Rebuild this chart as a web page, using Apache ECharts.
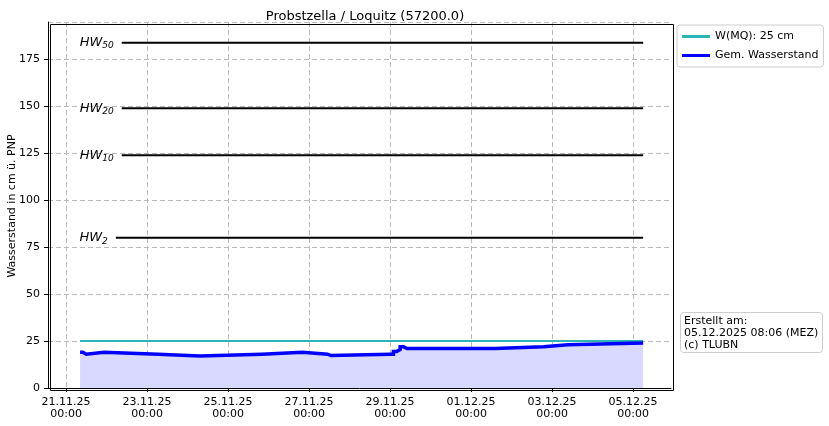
<!DOCTYPE html><html><head><meta charset="utf-8">
<script src="https://cdn.jsdelivr.net/npm/echarts@6/dist/echarts.min.js"></script>
<style>html,body{margin:0;padding:0;background:#fff}#c{width:829px;height:426px}</style></head>
<body><div id="c"></div><script>
// hours since 21.11.25 00:00
const tickHours=[0,48,96,144,192,240,288,336];
const tickLabels=['21.11.25\n00:00','23.11.25\n00:00','25.11.25\n00:00','27.11.25\n00:00','29.11.25\n00:00','01.12.25\n00:00','03.12.25\n00:00','05.12.25\n00:00'];
const levelHours=[8.3,10,11,12,13,22.5,54.5,79.4,116,140,155,156,157,192,194,196,198,200,201,202,203,254,283,297.5,342];
const levelValues=[19,19,18,18,19,18,17,18,19,18,18,17.3,18,18,19.5,20.5,22,21.3,21,20.3,21,22,23,24,24];
const mqValue=25, mqStart=8.3, mqEnd=342;
const hwNames=['50','20','10','2'];
const hwValues=[184,149,124,80];
const hwStarts=[33,33,33,29.5];
const F='DejaVu Sans';
const stepData=[];
levelHours.forEach((h,i)=>{ if(i>0) stepData.push([h,levelValues[i-1]]); stepData.push([h,levelValues[i]]); });
const series=[
 {name:'W(MQ): 25 cm',type:'line',data:[[mqStart,mqValue],[mqEnd,mqValue]],symbol:'none',lineStyle:{color:'#2cb5b5',width:2},itemStyle:{color:'#2cb5b5'},z:3},
 {name:'Gem. Wasserstand',type:'line',data:stepData,symbol:'none',lineStyle:{color:'#0000ff',width:3.5,join:'miter'},itemStyle:{color:'#0000ff'},areaStyle:{color:'#d9d9ff',opacity:1},z:4}
];
hwNames.forEach((n,i)=>series.push({type:'line',name:'HW'+n,data:[[hwStarts[i],hwValues[i]],[mqEnd,hwValues[i]]],symbol:'circle',symbolSize:0.01,showSymbol:true,lineStyle:{color:'#000',width:2},silent:true,
 label:{show:true,position:'left',distance:8,formatter:p=>p.dataIndex===0?'{a|HW}{b|'+n+'}':'',rich:{a:{fontFamily:F,fontSize:13,fontStyle:'italic',color:'#000'},b:{fontFamily:F,fontSize:9,fontStyle:'italic',color:'#000',padding:[7,0,0,0]}}}}));
const chart=echarts.init(document.getElementById('c'));
chart.setOption({animation:false,
 title:{text:'Probstzella / Loquitz (57200.0)',left:360,top:5,textAlign:'center',textStyle:{fontFamily:F,fontSize:13,fontWeight:'normal',color:'#000'}},
 grid:{left:48,right:158,top:22,bottom:38,containLabel:false,outerBoundsMode:'none'},
 legend:{data:[{name:'W(MQ): 25 cm',itemStyle:{color:'#2cb5b5'}},{name:'Gem. Wasserstand',itemStyle:{color:'#0000ff'}}],orient:'vertical',left:677,top:25,itemWidth:28,itemHeight:3,itemGap:8,icon:'rect',
   borderColor:'#ccc',borderWidth:1,borderRadius:3,padding:[6,5],textStyle:{fontFamily:F,fontSize:11,color:'#000'}},
 xAxis:{type:'value',min:-10.7,max:358.5,
   axisLine:{onZero:false,lineStyle:{color:'#000'}},axisTick:{customValues:tickHours,length:4,lineStyle:{color:'#000'}},
   axisLabel:{customValues:tickHours,formatter:v=>tickLabels[tickHours.indexOf(v)]||'',fontFamily:F,fontSize:11,color:'#000',lineHeight:12},
   splitLine:{show:true,lineStyle:{color:'#bbb',type:[5,3]}}},
 yAxis:{type:'value',min:0,max:195,interval:25,
   axisLine:{show:true,onZero:false,lineStyle:{color:'#000'}},axisTick:{show:true,length:4,lineStyle:{color:'#000'}},
   axisLabel:{fontFamily:F,fontSize:11,color:'#000',showMaxLabel:false},splitLine:{lineStyle:{color:'#bbb',type:[5,3]}}},
 graphic:[
  {type:'text',x:12,y:206,rotation:Math.PI/2,style:{text:'Wasserstand in cm ü. PNP',fontFamily:F,fontSize:11,fill:'#000',align:'center',verticalAlign:'middle'}},
  {type:'rect',left:48,top:22,shape:{width:623,height:366},style:{fill:'none',stroke:'#000',lineWidth:1},z:10,silent:true},
  {type:'rect',left:680,top:312,shape:{width:142,height:40,r:3},style:{fill:'#fff',stroke:'#ccc',lineWidth:1}},
  {type:'text',left:684,top:315,style:{text:'Erstellt am:\n05.12.2025 08:06 (MEZ)\n(c) TLUBN',fontFamily:F,fontSize:11,lineHeight:12,fill:'#000'}}
 ],
 series});
</script></body></html>
